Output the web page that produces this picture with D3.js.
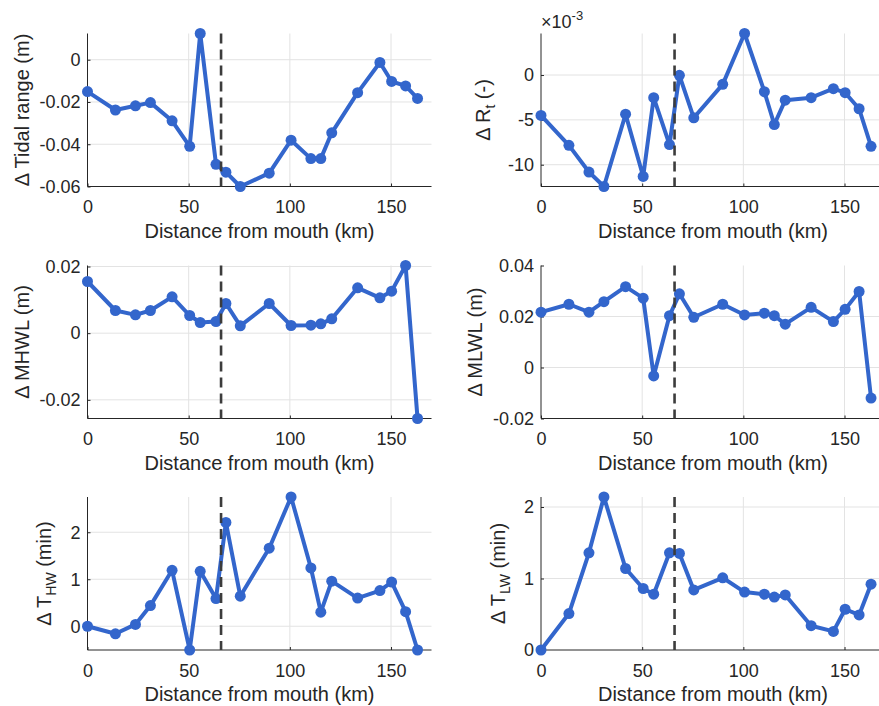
<!DOCTYPE html>
<html>
<head>
<meta charset="utf-8">
<script src="https://cdn.jsdelivr.net/npm/d3@7"></script>
<style>
	body { margin: 0; background: #fff; }
	svg { display: block; font-family: "Liberation Sans", Arial, Helvetica, sans-serif; }
</style>
</head>
<body>
<svg id="chart" width="879" height="706"></svg>
<script>
// stations along the estuary (km from the mouth)
const distanceKm = [0, 13.8, 23.7, 31.1, 41.8, 50.5, 55.7, 63.5, 68.4, 75.5, 89.8, 100.6, 110.4, 115.3, 120.7, 133.5, 144.5, 150.3, 157.2, 163.1];
const dividerKm = 66;

const tidalRange = [-0.0151, -0.0238, -0.0218, -0.0203, -0.0289, -0.0410, 0.0124, -0.0495, -0.0532, -0.0600, -0.0537, -0.0381, -0.0468, -0.0468, -0.0346, -0.0156, -0.0013, -0.0103, -0.0124, -0.0183];
const rtE3 = [-4.51, -7.84, -10.82, -12.43, -4.37, -11.31, -2.53, -7.76, -0.03, -4.77, -1.04, 4.63, -1.86, -5.52, -2.80, -2.53, -1.52, -1.97, -3.76, -7.95];
const mhwl = [0.0155, 0.0068, 0.0055, 0.0068, 0.0109, 0.0053, 0.0032, 0.0035, 0.0089, 0.0022, 0.0089, 0.0023, 0.0024, 0.0028, 0.0043, 0.0136, 0.0106, 0.0126, 0.0203, -0.0256];
const mlwl = [0.0217, 0.0248, 0.0217, 0.0258, 0.0317, 0.0272, -0.0033, 0.0203, 0.0289, 0.0197, 0.0248, 0.0206, 0.0213, 0.0203, 0.0170, 0.0236, 0.0180, 0.0228, 0.0298, -0.0120];
const thw = [0, -0.16, 0.04, 0.44, 1.19, -0.505, 1.17, 0.59, 2.21, 0.64, 1.66, 2.75, 1.24, 0.30, 0.96, 0.60, 0.76, 0.94, 0.31, -0.505];
const tlw = [0, 0.51, 1.36, 2.14, 1.14, 0.86, 0.78, 1.36, 1.35, 0.84, 1.01, 0.81, 0.78, 0.74, 0.77, 0.34, 0.26, 0.57, 0.49, 0.92];

const xTicks = [0, 50, 100, 150];
const xLabel = "Distance from mouth (km)";

// panel: values, y ticks, label pieces [main, subscript, rest]
const panels = [
	{ values: tidalRange, yTicks: [-0.06, -0.04, -0.02, 0], label: ["\u0394 Tidal range (m)", "", ""], col: 0, row: 0, labelOff: 59 },
	{ values: rtE3, yTicks: [-10, -5, 0], label: ["\u0394 R", "t", " (-)"], col: 1, row: 0, labelOff: 51, exponent: "-3" },
	{ values: mhwl, yTicks: [-0.02, 0, 0.02], label: ["\u0394 MHWL (m)", "", ""], col: 0, row: 1, labelOff: 59 },
	{ values: mlwl, yTicks: [-0.02, 0, 0.02, 0.04], label: ["\u0394 MLWL (m)", "", ""], col: 1, row: 1, labelOff: 59, yDomain: [-0.02, 0.04] },
	{ values: thw, yTicks: [0, 1, 2], label: ["\u0394 T", "HW", " (min)"], col: 0, row: 2, labelOff: 37 },
	{ values: tlw, yTicks: [0, 1, 2], label: ["\u0394 T", "LW", " (min)"], col: 1, row: 2, labelOff: 36 }
];

const colLeft = [87.5, 541];
const rowTop = [33.5, 265.5, 497];
const plotW = 344, plotH = 153;
const blue = "#3366cc";
const ink = "#262626";

const svg = d3.select("#chart");

panels.forEach(p => {
	let left = colLeft[p.col], top = rowTop[p.row];
	let g = svg.append("g").attr("transform", `translate(${left},${top})`);

	let x = d3.scaleLinear().domain([0, 170]).range([0, plotW]);
	let y = d3.scaleLinear().domain(p.yDomain || d3.extent(p.values)).range([plotH, 0]);

	// grid
	g.append("g").selectAll("line.gx")
		.data(xTicks.filter(t => t > 0)).enter().append("line")
		.attr("x1", d => x(d)).attr("x2", d => x(d))
		.attr("y1", 0).attr("y2", plotH)
		.attr("stroke", "#e3e3e3").attr("stroke-width", 1);
	g.append("g").selectAll("line.gy")
		.data(p.yTicks.filter(t => y(t) > 0.5 && y(t) < plotH - 0.5)).enter().append("line")
		.attr("x1", 0).attr("x2", plotW)
		.attr("y1", d => y(d)).attr("y2", d => y(d))
		.attr("stroke", "#e3e3e3").attr("stroke-width", 1);

	// axes (inward ticks, matlab style)
	let fmt = d => d === 0 ? "0" : String(d);
	let xa = g.append("g").attr("transform", `translate(0,${plotH})`)
		.call(d3.axisBottom(x).tickValues(xTicks).tickSize(-3).tickPadding(10).tickFormat(fmt));
	let ya = g.append("g")
		.call(d3.axisLeft(y).tickValues(p.yTicks).tickSize(-3).tickPadding(10).tickFormat(fmt));
	[xa, ya].forEach(a => {
		a.select(".domain").attr("stroke", ink).attr("stroke-width", 1)
			.attr("d", a === xa ? `M0,0H${plotW}` : `M0,0V${plotH}`);
		a.selectAll(".tick line").attr("stroke", ink);
		a.selectAll(".tick text").attr("fill", ink).style("font-size", "18px");
	});
	xa.selectAll(".tick text").attr("dy", "0.71em").attr("y", 14);
	ya.selectAll(".tick text").attr("x", -7);

	// series
	g.append("path")
		.datum(p.values)
		.attr("fill", "none")
		.attr("stroke", blue)
		.attr("stroke-width", 4)
		.attr("stroke-linejoin", "round")
		.attr("d", d3.line().x((d, i) => x(distanceKm[i])).y(d => y(d)));
	g.append("g").selectAll("circle")
		.data(p.values).enter().append("circle")
		.attr("cx", (d, i) => x(distanceKm[i]))
		.attr("cy", d => y(d))
		.attr("r", 5.5)
		.attr("fill", blue);

	// divider
	g.append("line")
		.attr("x1", x(dividerKm)).attr("x2", x(dividerKm))
		.attr("y1", 0).attr("y2", plotH)
		.attr("stroke", "#3c3c3c")
		.attr("stroke-width", 2.6)
		.attr("stroke-dasharray", "10,6");

	// labels
	g.append("text")
		.attr("x", plotW / 2).attr("y", plotH + 51)
		.attr("text-anchor", "middle")
		.attr("fill", ink)
		.style("font-size", "20px")
		.text(xLabel);

	let yl = g.append("text")
		.attr("transform", `translate(${-p.labelOff},${plotH / 2}) rotate(-90)`)
		.attr("text-anchor", "middle")
		.attr("fill", ink)
		.style("font-size", "20px");
	yl.append("tspan").text(p.label[0]);
	if(p.label[1]){
		yl.append("tspan").attr("dy", 5).style("font-size", "14px").text(p.label[1]);
		yl.append("tspan").attr("dy", -5).text(p.label[2]);
	}

	if(p.exponent){
		let ex = g.append("text").attr("x", 0).attr("y", -6).attr("fill", ink).style("font-size", "18px");
		ex.append("tspan").text("\u00d710");
		ex.append("tspan").attr("dy", -8).style("font-size", "13px").text(p.exponent);
	}
});
</script>
</body>
</html>
